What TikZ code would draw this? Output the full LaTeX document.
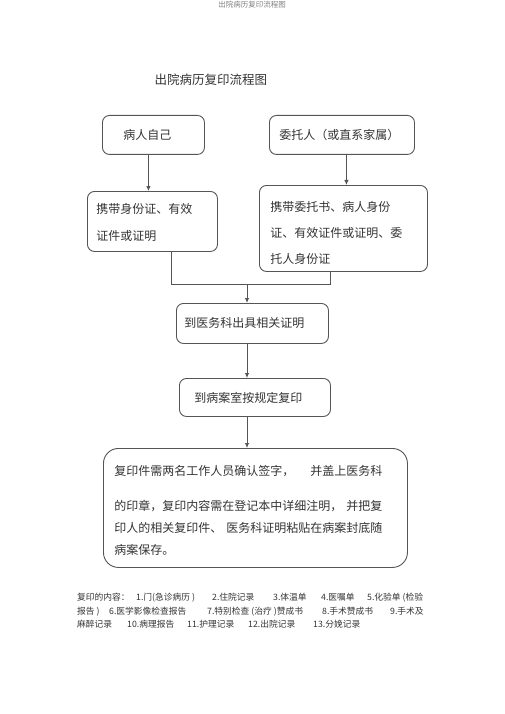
\documentclass[tikz,border=0pt]{standalone}
\usepackage{fontspec}
\setmainfont{Noto Sans CJK SC}
\usetikzlibrary{arrows.meta}
\definecolor{ln}{HTML}{555555}
\definecolor{tx}{HTML}{333333}
\tikzset{
  box/.style={draw=ln, line width=0.9pt, rounded corners=7pt, inner sep=0pt, text=tx, anchor=north west},
  arr/.style={draw=ln, line width=0.9pt, -{Latex[length=5pt,width=4.5pt]}},
  con/.style={draw=ln, line width=0.9pt},
  foot/.style={text=tx, anchor=base west, inner sep=0pt, font=\fontsize{8.75}{10}\selectfont},
}
\newcommand{\seg}[2]{\makebox[#1pt][l]{#2}}
\begin{document}
\begin{tikzpicture}[x=1pt,y=-1pt]
\useasboundingbox (0,0) rectangle (505,714);
% header
\node[text=gray, font=\fontsize{7.5}{9}\selectfont] (hdr) at (252,5) {出院病历复印流程图};
% title
\node[text=tx, font=\fontsize{12.5}{15}\selectfont, anchor=west] (title) at (151,80) {出院病历复印流程图};
% boxes
\node[box, minimum width=102pt, minimum height=39pt, font=\fontsize{12}{14}\selectfont] (b1) at (102,115) {\hspace*{-12pt}病人自己};
\node[box, minimum width=145pt, minimum height=39pt, font=\fontsize{12}{14}\selectfont, align=left, text width=125pt] (b2) at (269,115) {委托人（或直系家属）};
\node[box, minimum width=130pt, minimum height=60pt, align=left, text width=112pt, font=\fontsize{12}{27}\selectfont] (b3) at (87,191) {\rule{0pt}{13pt}携带身份证、有效\\证件或证明};
\node[box, minimum width=168pt, minimum height=86pt, align=left, text width=146pt, font=\fontsize{12}{26}\selectfont] (b4) at (259,185) {\rule{0pt}{20pt}携带委托书、病人身份\\证、有效证件或证明、委\\托人身份证};
\node[box, minimum width=152pt, minimum height=40pt, align=left, text width=136pt, font=\fontsize{12}{14}\selectfont] (b5) at (176,303) {到医务科出具相关证明};
\node[box, minimum width=151pt, minimum height=38pt, align=left, text width=121pt, font=\fontsize{12}{14}\selectfont] (b6) at (179,378) {到病案室按规定复印};
\node[box, rounded corners=15pt, minimum width=304pt, minimum height=119pt, align=left, text width=282pt, font=\fontsize{12}{22}\selectfont] (b7) at (103,448) {\rule{0pt}{16pt}复印件需两名工作人员确认签字，\hspace{16pt}并盖上医务科\\[13pt]的印章，复印内容需在登记本中详细注明，\hspace{4pt}并把复\\印人的相关复印件、\hspace{4pt}医务科证明粘贴在病案封底随\\病案保存。};
% connectors
\draw[arr] ([xshift=-5pt]b1.south) -- ([xshift=-5pt]b1.south |- b3.north);
\draw[arr] ([xshift=4.5pt]b2.south) -- ([xshift=4.5pt]b2.south |- b4.north);
\coordinate (m) at (247,284);
\draw[con] ([xshift=19pt]b3.south) |- (m);
\draw[con] ([xshift=-13pt]b4.south) |- (m);
\draw[arr] (m) -- (m |- b5.north);
\draw[arr] (m |- b5.south) -- (m |- b6.north);
\draw[arr] (m |- b6.south) -- (m |- b7.north);
% footnote
\node[foot] (f1) at (77,600.5) {\seg{59}{复印的内容：}\seg{76}{1.门(急诊病历 )}\seg{61}{2.住院记录}\seg{48}{3.体温单}\seg{46}{4.医嘱单}5.化验单 (检验};
\node[foot] (f2) at (77,614.5) {\seg{32}{报告 )}\seg{98}{6.医学影像检查报告}\seg{115}{7.特别检查 (治疗 )赞成书}\seg{68}{8.手术赞成书}9.手术及};
\node[foot] (f3) at (77,627.5) {\seg{50}{麻醉记录}\seg{60}{10.病理报告}\seg{61}{11.护理记录}\seg{65}{12.出院记录}13.分娩记录};
\end{tikzpicture}
\end{document}
